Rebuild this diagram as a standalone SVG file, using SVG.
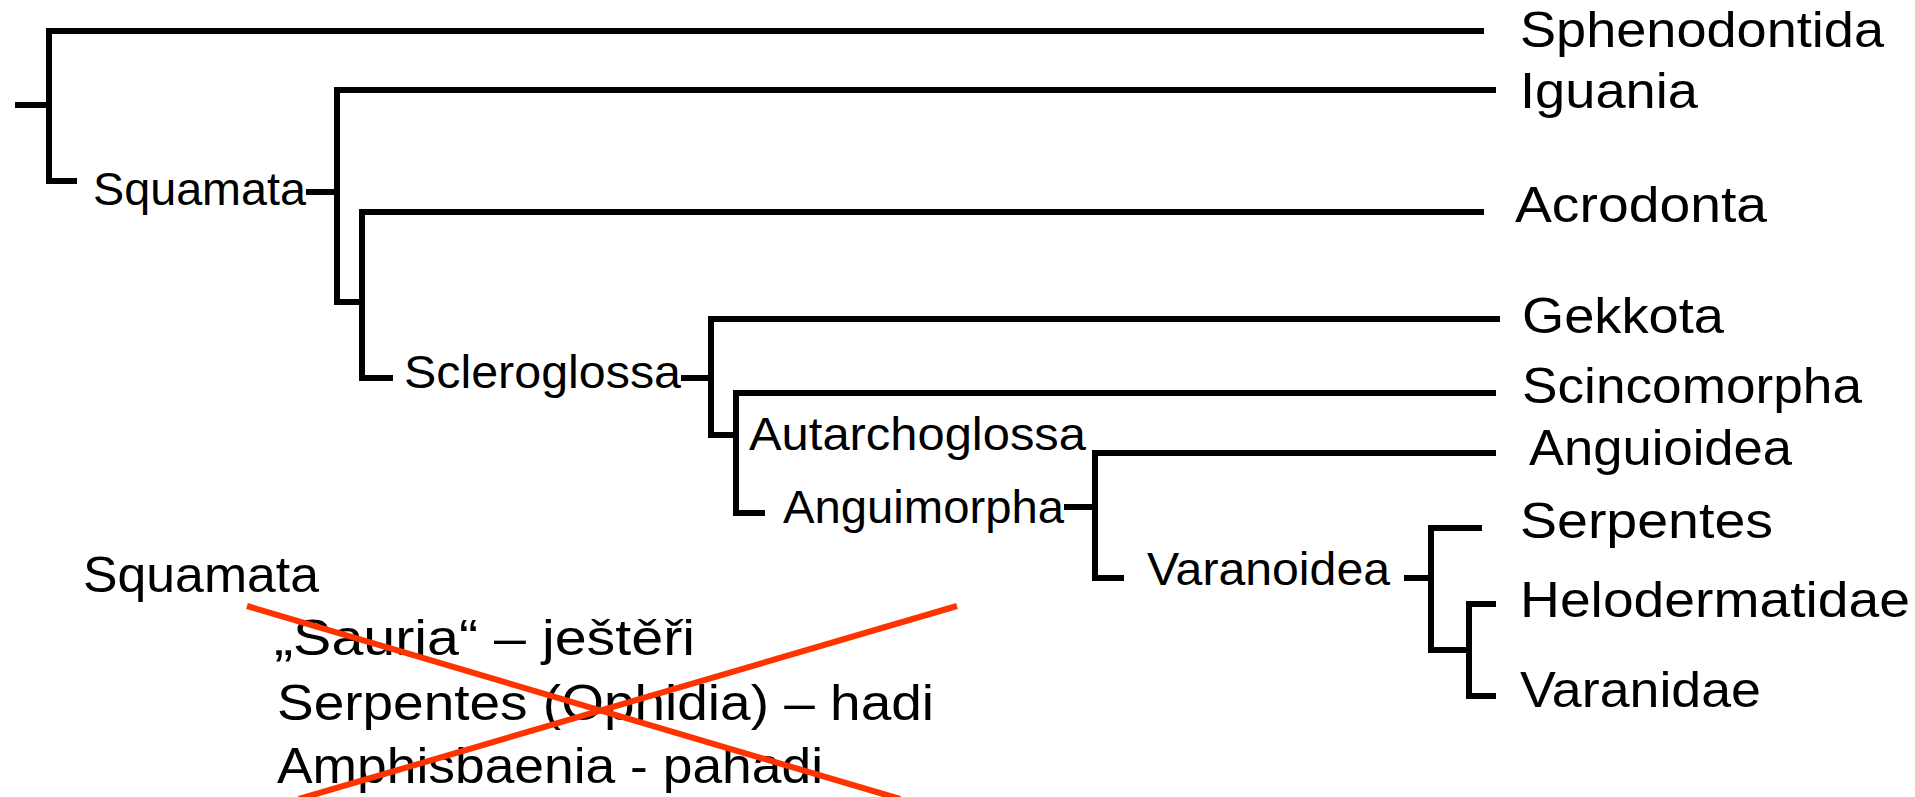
<svg xmlns="http://www.w3.org/2000/svg" width="1915" height="797" viewBox="0 0 1915 797">
<style>
.br{fill:none;stroke:#000;stroke-width:6;stroke-linejoin:miter;stroke-linecap:butt}
.x{stroke:#ff3300;stroke-width:6;stroke-linecap:butt}
.t{font-family:"Liberation Sans",Arial,sans-serif;fill:#000}
.leaf{font-size:50px}
.inner{font-size:46px}
.list{font-size:50px}
</style>
<rect width="1915" height="797" fill="#fff"/>
<g id="connectors">
<path class="br" d="M15 105 H49"/>
<path class="br" d="M1484 31 H49 V181 H77"/>
<path class="br" d="M306 192 H337"/>
<path class="br" d="M1496 90 H337 V302 H362"/>
<path class="br" d="M1484 212 H362 V378 H393"/>
<path class="br" d="M681 378 H711"/>
<path class="br" d="M1500 319 H711 V435 H736"/>
<path class="br" d="M1496 393 H736 V513 H765"/>
<path class="br" d="M1064 507 H1095"/>
<path class="br" d="M1496 453 H1095 V578 H1124"/>
<path class="br" d="M1404 578 H1431"/>
<path class="br" d="M1482 528 H1431 V650 H1469"/>
<path class="br" d="M1496 604 H1469 V696 H1496"/>
</g>
<g id="leaf-sphenodontida"><text class="t leaf" x="1520" y="47" textLength="364" lengthAdjust="spacingAndGlyphs">Sphenodontida</text></g>
<g id="leaf-iguania"><text class="t leaf" x="1520" y="108" textLength="178" lengthAdjust="spacingAndGlyphs">Iguania</text></g>
<g id="leaf-acrodonta"><text class="t leaf" x="1515" y="222" textLength="252" lengthAdjust="spacingAndGlyphs">Acrodonta</text></g>
<g id="leaf-gekkota"><text class="t leaf" x="1522" y="333" textLength="202" lengthAdjust="spacingAndGlyphs">Gekkota</text></g>
<g id="leaf-scincomorpha"><text class="t leaf" x="1522" y="403" textLength="340" lengthAdjust="spacingAndGlyphs">Scincomorpha</text></g>
<g id="leaf-anguioidea"><text class="t leaf" x="1529" y="465" textLength="263" lengthAdjust="spacingAndGlyphs">Anguioidea</text></g>
<g id="leaf-serpentes"><text class="t leaf" x="1520" y="538" textLength="253" lengthAdjust="spacingAndGlyphs">Serpentes</text></g>
<g id="leaf-helodermatidae"><text class="t leaf" x="1520" y="617" textLength="390" lengthAdjust="spacingAndGlyphs">Helodermatidae</text></g>
<g id="leaf-varanidae"><text class="t leaf" x="1520" y="707" textLength="241" lengthAdjust="spacingAndGlyphs">Varanidae</text></g>
<g id="node-squamata"><text class="t inner" x="93" y="205" textLength="213" lengthAdjust="spacingAndGlyphs">Squamata</text></g>
<g id="node-scleroglossa"><text class="t inner" x="404" y="388" textLength="277" lengthAdjust="spacingAndGlyphs">Scleroglossa</text></g>
<g id="node-autarchoglossa"><text class="t inner" x="749" y="450" textLength="337" lengthAdjust="spacingAndGlyphs">Autarchoglossa</text></g>
<g id="node-anguimorpha"><text class="t inner" x="783" y="523" textLength="281" lengthAdjust="spacingAndGlyphs">Anguimorpha</text></g>
<g id="node-varanoidea"><text class="t inner" x="1147" y="585" textLength="243" lengthAdjust="spacingAndGlyphs">Varanoidea</text></g>
<g id="old-classification">
<text class="t list" x="83" y="592" textLength="236" lengthAdjust="spacingAndGlyphs">Squamata</text>
<text class="t list" x="274" y="655" textLength="421" lengthAdjust="spacingAndGlyphs">„Sauria“ – ještěři</text>
<text class="t list" x="277" y="720" textLength="657" lengthAdjust="spacingAndGlyphs">Serpentes (Ophidia) – hadi</text>
<text class="t list" x="277" y="783" textLength="546" lengthAdjust="spacingAndGlyphs">Amphisbaenia - pahadi</text>
<line class="x" x1="247" y1="606" x2="900" y2="799"/>
<line class="x" x1="957" y1="606" x2="299" y2="799"/>
</g>
</svg>
